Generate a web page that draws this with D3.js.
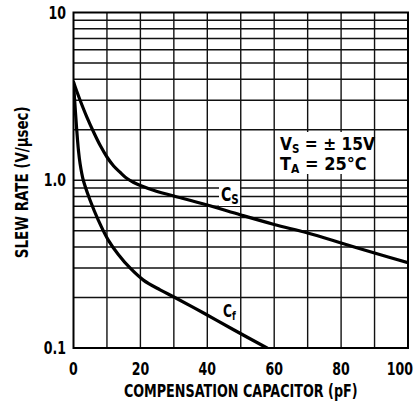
<!DOCTYPE html>
<html><head><meta charset="utf-8">
<script src="https://cdn.jsdelivr.net/npm/d3@7"></script>
<style>
html,body{margin:0;padding:0;background:#fff;}
text{font-family:"DejaVu Sans",sans-serif;font-weight:bold;fill:#000;}
</style></head>
<body><svg id="c" width="415" height="404"></svg>
<script>
// ---- data ----
const xTicks = [0, 20, 40, 60, 80, 100];
const xTickLabels = ["0", "20", "40", "60", "80", "100"];
const yTicks = [10, 1, 0.1];
const yTickLabels = ["10", "1.0", "0.1"];
const csX = [0, 1, 2, 4, 6, 8, 10, 12, 14, 16, 18, 20, 25, 30, 40, 50, 60, 70, 80, 90, 100];
const csY = [3.85, 3.38, 2.99, 2.38, 1.94, 1.61, 1.376, 1.216, 1.112, 1.024, 0.97, 0.93, 0.857, 0.806, 0.712, 0.621, 0.545, 0.485, 0.423, 0.368, 0.3225];
const cfX = [0, 0.3, 0.6, 0.9, 1.2, 1.5, 1.94, 2.93, 4.93, 7.41, 10.4, 13.4, 16.9, 20.9, 25.9, 30.3, 39.3, 48, 57.85];
const cfY = [3.85, 3.09, 2.52, 2.08, 1.74, 1.494, 1.267, 1.0, 0.763, 0.579, 0.44, 0.361, 0.3, 0.254, 0.222, 0.2, 0.16, 0.128, 0.1];
const xTitle = "COMPENSATION CAPACITOR (pF)";
const yTitle = "SLEW RATE (V/\u03BCsec)";

// ---- layout ----
const L = 73.5, R = 408, T = 12.5, B = 348;
const svg = d3.select("#c");
const x = d3.scaleLinear().domain([0, 100]).range([L, R]);
const y = d3.scaleLog().domain([0.1, 10]).range([B, T]);

// narrow-text helper (emulates a condensed bold face)
function ntext(px, py, sx, size, anchor) {
  return svg.append("text")
    .attr("transform", `translate(${px},${py}) scale(${sx},1)`)
    .attr("font-size", size).attr("text-anchor", anchor || "start");
}
// text squeezed to a target width via a scale transform
function fitText(px, py, rot, size, width, str) {
  const t = svg.append("text").attr("font-size", size).attr("text-anchor", "middle").text(str);
  const w = t.node().getComputedTextLength();
  const s = Math.min(1, width / w);
  t.attr("transform", `translate(${px},${py}) rotate(${rot}) scale(${s},1)`);
  return t;
}

// grid
const vGrid = d3.range(10, 100, 10);
const hGrid = [];
[0.1, 1].forEach(d => { for (let k = 2; k <= 9; k++) hGrid.push(d * k); });
hGrid.push(1);
const g = svg.append("g");
g.selectAll("line.v").data(vGrid).join("line")
  .attr("x1", d => x(d)).attr("x2", d => x(d)).attr("y1", T).attr("y2", B)
  .attr("stroke", "#111").attr("stroke-width", 1.4);
g.selectAll("line.h").data(hGrid).join("line")
  .attr("y1", d => y(d)).attr("y2", d => y(d)).attr("x1", L).attr("x2", R)
  .attr("stroke", "#111").attr("stroke-width", 1.4);

// white backgrounds for labels
svg.append("rect").attr("x", 278).attr("y", 132).attr("width", 93).attr("height", 42).attr("fill", "#fff");
svg.append("rect").attr("x", 219).attr("y", 184).attr("width", 21).attr("height", 22).attr("fill", "#fff");

// border
svg.append("rect").attr("x", L).attr("y", T).attr("width", R - L).attr("height", B - T)
  .attr("fill", "none").attr("stroke", "#000").attr("stroke-width", 2);

// curves
svg.append("clipPath").attr("id", "clip").append("rect")
  .attr("x", L).attr("y", T).attr("width", R - L).attr("height", B - T);
const line = d3.line().x(d => x(d[0])).y(d => y(d[1])).curve(d3.curveCatmullRom.alpha(0.5));
const cs = csX.map((v, i) => [v, csY[i]]);
const cf = cfX.map((v, i) => [v, cfY[i]]);
[cs, cf].forEach(data => {
  svg.append("path").datum(data).attr("d", line).attr("clip-path", "url(#clip)")
    .attr("fill", "none").attr("stroke", "#000").attr("stroke-width", 3.2)
    .attr("stroke-linejoin", "round").attr("stroke-linecap", "round");
});

// axes tick labels
xTicks.forEach((d, i) => {
  const last = i === xTicks.length - 1;
  ntext(last ? 413 : x(d), 375, 0.74, 17, last ? "end" : "middle").text(xTickLabels[i]);
});
yTicks.forEach((d, i) => {
  ntext(66, y(d) + 6, 0.74, 17, "end").text(yTickLabels[i]);
});

// titles
fitText((L + R) / 2, 397, 0, 17, 234, xTitle);
fitText(28, (T + B) / 2 + 2, -90, 17, 152, yTitle);

// annotations
const a1 = ntext(280, 150, 0.86, 18);
a1.append("tspan").text("V");
a1.append("tspan").attr("font-size", 12).attr("dy", 3).text("S");
a1.append("tspan").attr("dy", -3).text(" = \u00B1 15V");
const a2 = ntext(280, 170, 0.9, 18);
a2.append("tspan").text("T");
a2.append("tspan").attr("font-size", 12).attr("dy", 3).text("A");
a2.append("tspan").attr("dy", -3).text(" = 25\u00B0C");

const c1 = ntext(221, 201, 0.74, 19);
c1.append("tspan").text("C");
c1.append("tspan").attr("font-size", 14).attr("dy", 3).text("S");
const c2 = ntext(223, 317, 0.72, 17);
c2.append("tspan").text("C");
c2.append("tspan").attr("font-size", 12).attr("dy", 3).text("f");
</script></body></html>
